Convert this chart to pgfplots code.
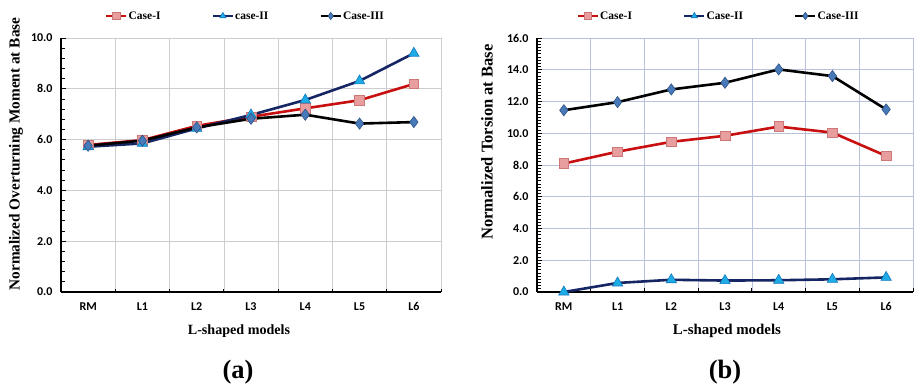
\documentclass[border=0pt]{standalone}
\usepackage{fontspec}
\setmainfont{Liberation Serif}
\newfontfamily\calibri{Carlito}
\usepackage{pgfplots}
\usepackage{pgfplotstable}
\pgfplotsset{compat=1.18}

\definecolor{redline}{RGB}{200,16,16}
\definecolor{pinkfill}{RGB}{232,158,158}
\definecolor{pinkedge}{RGB}{205,120,120}
\definecolor{navyline}{RGB}{22,38,100}
\definecolor{cyanfill}{RGB}{30,172,230}
\definecolor{cyanedge}{RGB}{20,120,190}
\definecolor{steelfill}{RGB}{72,122,185}
\definecolor{steeledge}{RGB}{45,80,130}
\definecolor{gridgray}{RGB}{205,205,205}
\definecolor{gridblue}{RGB}{184,194,218}

% Normalized overturning moment at base (x: 0=RM, 1..6 = L1..L6)
\pgfplotstableread{
x  c1    c2    c3
0  5.79  5.72  5.76
1  5.98  5.85  5.96
2  6.54  6.44  6.48
3  6.90  6.97  6.82
4  7.23  7.56  6.98
5  7.55  8.31  6.63
6  8.19  9.40  6.69
}\moment

% Normalized torsion at base
\pgfplotstableread{
x  c1     c2    c3
0  8.09   0.00  11.45
1  8.84   0.57  11.96
2  9.46   0.77  12.76
3  9.84   0.72  13.18
4  10.42  0.74  14.02
5  10.04  0.80  13.60
6  8.57   0.92  11.50
}\torsion

\pgfplotsset{
  panel/.style={
    scale only axis, width=380pt, height=254pt,
    anchor=south west,
    axis x line*=bottom, axis y line*=left,
    axis line style={black, line width=1.4pt},
    xmin=-0.5, xmax=6.5,
    xtick={0,...,6},
    xticklabels={RM,L1,L2,L3,L4,L5,L6},
    major x tick style={draw=none},
    minor xtick={0.5,1.5,...,6.5},
    xminorgrids, ymajorgrids,
    tick align=inside,
    major tick length=5pt, minor tick length=3.5pt,
    tick style={black, line width=0.9pt},
    ymin=0,
    ticklabel style={font=\fontsize{12}{14}\selectfont\calibri\bfseries},
    /pgf/number format/assume math mode=true,
    y tick label style={/pgf/number format/fixed, /pgf/number format/fixed zerofill, /pgf/number format/precision=1, xshift=-5pt},
    x tick label style={yshift=-7pt},
    xlabel={L-shaped models},
    xlabel style={at={(axis description cs:0.5,0)}, anchor=center, yshift=-39pt},
    ylabel style={at={(axis description cs:0,0.5)}, anchor=center},
    legend columns=3,
    legend cell align=left,
    legend image code/.code={%
      \draw[mark repeat=2, mark phase=2, #1, mark size=3.6pt]
        plot coordinates {(0pt,0pt) (10pt,0pt) (20pt,0pt)};},
    legend style={at={(axis description cs:0.5,1)}, anchor=center, yshift=22pt,
      draw=none, fill=none,
      font=\fontsize{11.5}{13}\selectfont\bfseries,
      nodes={inner xsep=1pt},
      /tikz/every even column/.append style={column sep=50pt}},
  },
  caseI/.style={redline, line width=2.6pt, mark=square*, mark size=4.8pt,
    mark options={fill=pinkfill, draw=pinkedge, line width=0.6pt}},
  caseII/.style={navyline, line width=2.6pt, mark=triangle*, mark size=6pt,
    mark options={fill=cyanfill, draw=cyanedge, line width=0.6pt}},
  caseIII/.style={black, line width=2.6pt, mark=diamond*, mark size=5.6pt,
    mark options={fill=steelfill, draw=steeledge, line width=0.6pt}},
}

\begin{document}
\begin{tikzpicture}
\useasboundingbox (0pt,0pt) rectangle (915pt,383pt);

% (a) overturning moment
\begin{axis}[panel, at={(61pt,91pt)},
  ymax=10, ytick={0,2,...,10}, minor y tick num=4,
  grid style={gridgray, line width=0.7pt},
  minor grid style={gridgray, line width=0.7pt},
  ylabel={Normalized Overturning Moment at Base},
  ylabel style={font=\fontsize{15.3}{17}\selectfont\bfseries, yshift=45pt, xshift=11pt},
  xlabel style={font=\fontsize{14.1}{16}\selectfont\bfseries, xshift=-12pt},
  legend style={xshift=-6pt}]
\addplot[caseI] table[x=x, y=c1] {\moment};
\addlegendentry{Case-I}
\addplot[caseII] table[x=x, y=c2] {\moment};
\addlegendentry{case-II}
\addplot[caseIII] table[x=x, y=c3] {\moment};
\addlegendentry{Case-III}
\end{axis}

% (b) torsion
\begin{axis}[panel, at={(537pt,91pt)}, width=376pt,
  ymax=16, ytick={0,2,...,16}, minor y tick num=9,
  grid style={gridblue, line width=0.7pt},
  minor grid style={gridblue, line width=0.7pt},
  ylabel={Normalized Torsion at Base},
  ylabel style={font=\fontsize{16.5}{18}\selectfont\bfseries, yshift=50pt, xshift=23pt},
  xlabel style={font=\fontsize{14.9}{16}\selectfont\bfseries, xshift=2pt},
  legend style={xshift=-7pt}]
\addplot[caseI] table[x=x, y=c1] {\torsion};
\addlegendentry{Case-I}
\addplot[caseII] table[x=x, y=c2] {\torsion};
\addlegendentry{Case-II}
\addplot[caseIII] table[x=x, y=c3] {\torsion};
\addlegendentry{Case-III}
\end{axis}

\node[font=\fontsize{26.5}{28}\selectfont\bfseries] at (238pt,11pt) {(a)};
\node[font=\fontsize{26.5}{28}\selectfont\bfseries] at (725pt,11pt) {(b)};
\end{tikzpicture}
\end{document}
